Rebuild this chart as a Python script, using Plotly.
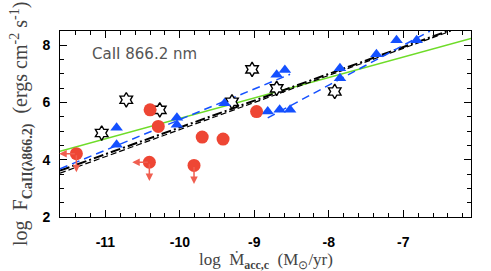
import plotly.graph_objects as go

# ---------------- data ----------------
star_x = [-11.05, -10.72, -10.27, -9.30, -9.03, -8.70, -7.92]
star_y = [4.93, 6.09, 5.74, 6.02, 7.15, 6.49, 6.38]

tri_x = [-10.85, -10.85, -10.04, -10.04, -9.40, -8.82, -8.66, -8.52, -8.70, -8.59,
         -7.85, -7.85, -7.36, -7.09, -6.82]
tri_y = [5.11, 4.52, 5.46, 5.22, 5.97, 5.68, 5.74, 5.74, 6.96, 7.13,
         7.19, 6.84, 7.68, 8.17, 8.17]

red_x = [-10.40, -10.29, -9.70, -9.42, -8.97]
red_y = [5.74, 5.16, 4.79, 4.72, 5.68]

# upper limits (circle + arrows)
lim_x = [-11.39, -10.41, -9.81]
lim_y = [4.21, 3.91, 3.80]
lim_left = [True, True, False]
LEFT_LEN = 0.23
DOWN_LEN = 0.65

# fitted relations (end points)
green_x = [-11.61, -6.09]
green_y = [4.29, 8.23]
black1_x = [-11.61, -6.40]
black1_y = [3.62, 8.49]
black2_x = [-11.61, -6.36]
black2_y = [3.53, 8.49]
blue1_x = [-11.61, -8.52]
blue1_y = [3.68, 6.98]
blue2_x = [-8.82, -6.64]
blue2_y = [5.46, 8.49]

x_ticks = [-11, -10, -9, -8, -7]
y_ticks = [2, 4, 6, 8]

RED = "rgb(238,70,52)"
RED_ARROW = "rgb(240,95,80)"
BLUE = "rgb(20,80,255)"
GREEN = "rgb(110,220,40)"

fig = go.Figure()

fig.add_trace(go.Scatter(x=green_x, y=green_y, mode="lines",
                         line=dict(color=GREEN, width=1.5)))
fig.add_trace(go.Scatter(x=black2_x, y=black2_y, mode="lines",
                         line=dict(color="black", width=1.2, dash="6px,3px")))
fig.add_trace(go.Scatter(x=black1_x, y=black1_y, mode="lines",
                         line=dict(color="black", width=2, dash="10px,3px,2px,3px")))
fig.add_trace(go.Scatter(x=blue1_x, y=blue1_y, mode="lines",
                         line=dict(color=BLUE, width=1.5, dash="8px,5px")))
fig.add_trace(go.Scatter(x=blue2_x, y=blue2_y, mode="lines",
                         line=dict(color=BLUE, width=1.5, dash="8px,5px")))

fig.add_trace(go.Scatter(x=star_x, y=star_y, mode="markers",
                         marker=dict(symbol="hexagram", size=11, color="white",
                                     line=dict(color="black", width=1.4))))
fig.add_trace(go.Scatter(x=tri_x, y=tri_y, mode="markers",
                         marker=dict(symbol="triangle-up", size=11, color=BLUE,
                                     line=dict(width=0))))

# arrows for upper limits
for xv, yv, lf in zip(lim_x, lim_y, lim_left):
    fig.add_annotation(x=xv, y=yv - DOWN_LEN, ax=xv, ay=yv, xref="x", yref="y",
                       axref="x", ayref="y", text="", showarrow=True,
                       arrowhead=2, arrowsize=1, arrowwidth=1.5, arrowcolor=RED_ARROW)
    if lf:
        fig.add_annotation(x=xv - LEFT_LEN, y=yv, ax=xv, ay=yv, xref="x", yref="y",
                           axref="x", ayref="y", text="", showarrow=True,
                           arrowhead=2, arrowsize=1, arrowwidth=1.5, arrowcolor=RED_ARROW)

fig.add_trace(go.Scatter(x=red_x + lim_x, y=red_y + lim_y, mode="markers",
                         marker=dict(symbol="circle", size=13, color=RED,
                                     line=dict(width=0))))

axis_common = dict(showgrid=False, zeroline=False, showline=True, linecolor="black",
                   linewidth=1, mirror="allticks", ticks="inside", ticklen=7,
                   tickcolor="black", tickwidth=1, automargin=False,
                   tickfont=dict(family="Liberation Sans", size=14, color="black",
                                 weight="bold"))

fig.update_xaxes(range=[-11.61, -6.09], tickvals=x_ticks,
                 ticktext=[str(v) for v in x_ticks],
                 minor=dict(dtick=0.2, tick0=-11, ticklen=4, ticks="inside",
                            tickcolor="black"),
                 ticklabelstandoff=12, **axis_common)
fig.update_yaxes(range=[2, 8.49], tickvals=y_ticks,
                 ticktext=[str(v) for v in y_ticks],
                 minor=dict(dtick=0.5, tick0=2, ticklen=4, ticks="inside",
                            tickcolor="black"),
                 ticklabelstandoff=6, **axis_common)

fig.add_annotation(x=-11.21, y=7.69, xref="x", yref="y", xanchor="left",
                   text="CaII 866.2 nm", showarrow=False,
                   font=dict(family="DejaVu Sans", size=15, color="#555555"))

fig.add_annotation(x=0.5, y=-0.235, xref="paper", yref="paper", yanchor="middle",
                   text="log  Ṁ<sub><b>acc,c</b></sub>  (M<sub>⊙</sub>/yr)",
                   showarrow=False,
                   font=dict(family="Liberation Serif", size=17, color="#444444"))
fig.add_annotation(x=-0.095, y=0.5, xref="paper", yref="paper", xanchor="center",
                   yanchor="middle", textangle=-90,
                   text="log  F<sub><b>CaII(λ866.2)</b></sub>  (ergs cm<sup>-2</sup> s<sup>-1</sup>)",
                   showarrow=False,
                   font=dict(family="Liberation Serif", size=20, color="#444444"))

fig.update_layout(width=491, height=271, showlegend=False, template="none",
                  margin=dict(l=60, r=20, t=31, b=54),
                  plot_bgcolor="white", paper_bgcolor="white")

fig.write_html("out.html", config={"displayModeBar": False},
               post_script="document.body.style.margin='0px';document.body.style.padding='0px';")
